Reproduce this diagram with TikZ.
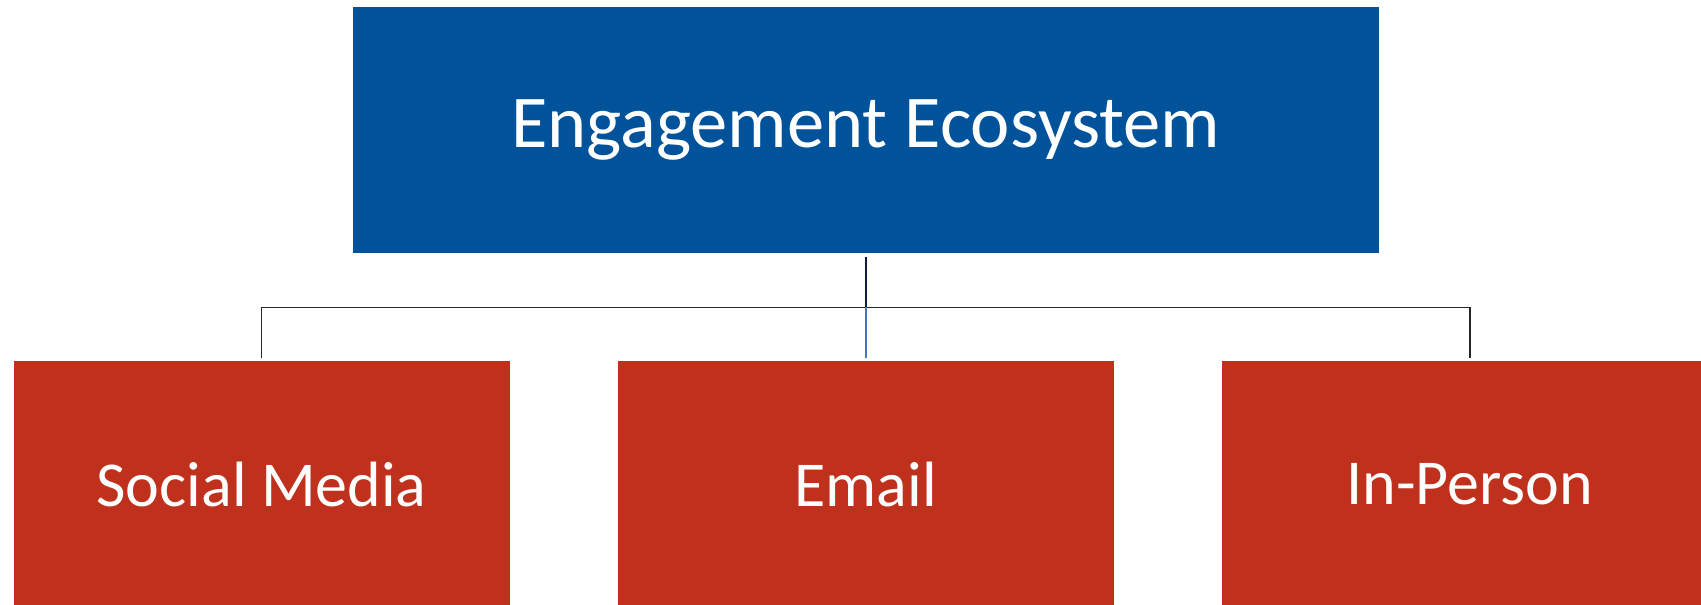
\documentclass[tikz,border=0pt]{standalone}
\usepackage{fontspec}
\setmainfont{Carlito}
\usetikzlibrary{positioning,calc}
\definecolor{ecoblue}{RGB}{0,83,155}
\definecolor{chanred}{RGB}{191,49,28}
\definecolor{linkdark}{RGB}{38,38,38}
\definecolor{linknavy}{RGB}{16,28,60}
\definecolor{linkblue}{RGB}{68,114,196}
\tikzset{x=1pt, y=1pt,
         hubbox/.style={fill=ecoblue, text=white, minimum width=1025.5pt,
           minimum height=246.3pt, inner sep=0pt,
           font=\fontsize{74.5}{80}\selectfont},
         chanbox/.style={fill=chanred, text=white, minimum width=496pt,
           minimum height=246.3pt, inner sep=0pt,
           font=\fontsize{64}{70}\selectfont},
         link/.style={draw=linkdark, line width=1.6pt}}

\begin{document}
\begin{tikzpicture}[node distance=107.7pt]
  \useasboundingbox (0,0) rectangle (1701,-605);
  \node[hubbox] (eco) at (865.75,-130.15) {Engagement Ecosystem};
  \node[chanbox, below=of eco] (email) {Email};
  \node[chanbox, left=of email] (social) {Social Media};
  \node[chanbox, right=of email] (person) {In-Person};
  % tree links
  \coordinate (hub) at ($(eco.south)!.5!(email.north)$);
  \draw[link, draw=linknavy] ([yshift=-3pt]eco.south) -- (hub);
  \draw[link] (social.north |- hub) -- (person.north |- hub);
  \draw[link] (social.north |- hub) -- ([yshift=3pt]social.north);
  \draw[link, draw=linkblue] (hub) -- ([yshift=3pt]email.north);
  \draw[link] (person.north |- hub) -- ([yshift=3pt]person.north);
\end{tikzpicture}
\end{document}
